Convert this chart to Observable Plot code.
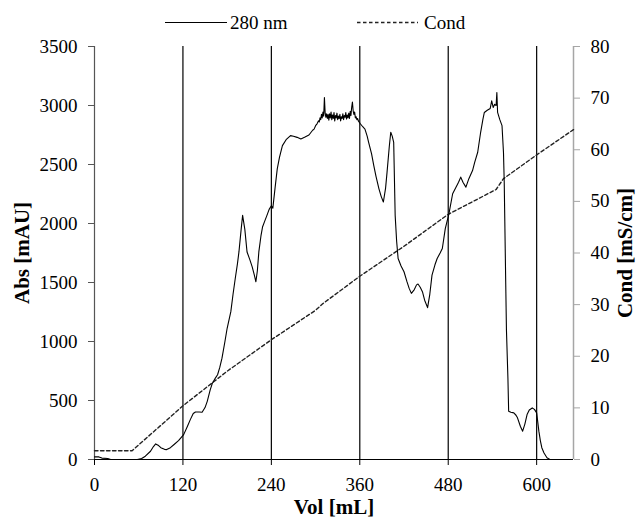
<!DOCTYPE html>
<html>
<head>
<meta charset="utf-8">
<script src="https://cdn.jsdelivr.net/npm/d3@7"></script>
<script src="https://cdn.jsdelivr.net/npm/@observablehq/plot@0.6"></script>
<style>
  html, body { margin: 0; padding: 0; background: #fff; }
  #wrap { width: 637px; height: 521px; position: relative; font-family: 'Liberation Serif', 'Times New Roman', serif; }
  #legend { display: block; }
</style>
</head>
<body>
<div id="wrap">
  <svg id="legend" width="637" height="36"></svg>
  <div id="chart"></div>
</div>
<script>
// ---- Data ----
const absVol = [0,6,10,18,22,58,64,69,76,80,83,87,90,95,98,103,108,114,121,126,130,134,137,142,146,150,153,157,160,164,167,170,173,177,180,185,188,191,194,196,199,201,204,207,211,214,217,219,221,223,226,228,231,234,237,240,242,245,248,251,255,260,266,270,275,280,285,291,296,298,300,302,304,305,306,307,308,309,310,311,312,313,314,315,316,317,318,319,320,321,322,323,324,325,326,327,328,329,330,331,332,333,334,335,336,337,338,339,340,341,342,343,344,345,346,347,348,349,350,351,352,353,354,355,356,357,358,361,364,367,370,372,376,379,382,386,389,392,395,397,400,402,404,406,408,410,412,416,420,424,427,430,434,437,439,442,445,448,452,455,458,462,465,469,472,476,481,486,490,494,497,500,504,508,513,516,520,524,527,529,533,537,539,541,543,545,546,547,550,553,555,556,558,559,561,562,565,569,572,574,578,581,584,587,590,594,597,600,603,605,607,610,614,618];
const absVal = [22,22,12,8,0,0,8,28,70,110,132,118,100,86,84,100,127,160,211,280,338,390,403,402,400,440,493,590,647,690,718,780,859,1000,1112,1253,1400,1534,1660,1759,1950,2069,1950,1759,1690,1633,1560,1506,1600,1759,1900,1970,2020,2069,2120,2150,2130,2300,2463,2560,2660,2710,2745,2740,2730,2716,2730,2750,2790,2800,2829,2845,2870,2860,2895,2880,2925,2895,2945,2910,3068,2935,2900,2930,2890,2925,2875,2930,2895,2945,2880,2920,2890,2940,2870,2915,2895,2935,2880,2910,2890,2925,2870,2905,2890,2930,2880,2915,2900,2940,2885,2920,2895,2935,2890,2950,2915,2985,3030,2955,2925,2945,2895,2905,2880,2890,2870,2843,2820,2800,2740,2688,2590,2491,2400,2294,2230,2182,2300,2435,2650,2773,2740,2688,2069,1850,1703,1640,1591,1507,1450,1408,1440,1480,1487,1460,1422,1350,1287,1400,1563,1650,1703,1750,1788,1956,2083,2252,2300,2350,2393,2350,2308,2380,2449,2520,2604,2773,2880,2941,2960,2975,3040,2983,3010,3000,3110,2941,2880,2829,2600,2350,1507,1100,690,409,400,395,375,353,280,240,300,381,420,437,425,395,240,160,100,55,15,0];

const condVol = [0,51,120,180,240,300,310,360,420,480,545,555,600,650];
const condVal = [1.7,1.7,10.4,17.1,23.2,28.9,30.2,35.5,41.3,47.5,52.3,54.4,59.0,63.9];

const xTicks = [0,120,240,360,480,600];
const gridX = [120,240,360,480,600];
const absTicks = [0,500,1000,1500,2000,2500,3000,3500];
const condTicks = [0,10,20,30,40,50,60,70,80];
const xDomain = [0,650];
const absMax = 3500;
const condMax = 80;

const seriesLabels = ["280 nm","Cond"];
const xTitle = "Vol [mL]";
const yTitle = "Abs [mAU]";
const y2Title = "Cond [mS/cm]";

// ---- Build tables ----
const absData = absVol.map((v,i) => ({vol: v, abs: absVal[i]}));
const condData = condVol.map((v,i) => ({vol: v, cond: condVal[i]}));
const toY = c => c * absMax / condMax;

// ---- Legend ----
const font = "'Liberation Serif', 'Times New Roman', serif";
const lg = d3.select("#legend");
lg.append("line").attr("x1",165).attr("x2",227).attr("y1",22.5).attr("y2",22.5)
  .attr("stroke","black").attr("stroke-width",1.1);
lg.append("text").attr("x",230).attr("y",29).text(seriesLabels[0])
  .attr("font-size",19).attr("font-family",font).attr("fill","black");
lg.append("line").attr("x1",357).attr("x2",418).attr("y1",22.5).attr("y2",22.5)
  .attr("stroke","#222").attr("stroke-width",1.3).attr("stroke-dasharray","3.5,2.5");
lg.append("text").attr("x",424).attr("y",29).text(seriesLabels[1])
  .attr("font-size",19).attr("font-family",font).attr("fill","black");

// ---- Chart ----
const chart = Plot.plot({
  width: 637,
  height: 485,
  marginLeft: 94,
  marginRight: 64,
  marginTop: 10,
  marginBottom: 62,
  x: {domain: xDomain},
  y: {domain: [0, absMax]},
  style: {fontFamily: font, fontSize: "19px", color: "black", background: "white", overflow: "visible"},
  marks: [
    Plot.ruleX(gridX, {y1: 0, y2: absMax, stroke: "black", strokeWidth: 1.2}),
    Plot.ruleX([xDomain[0]], {y1: 0, y2: absMax, stroke: "#555", strokeWidth: 1.2}),
    Plot.ruleX([xDomain[1]], {y1: 0, y2: absMax, stroke: "#a6a6a6", strokeWidth: 1.5}),
    Plot.axisX(xTicks, {tickSize: 6, tickPadding: 12, label: null, tickFormat: d => String(d), stroke: "black", fill: "black", fontSize: 19, fontFamily: font}),
    Plot.axisY(absTicks, {anchor: "left", tickSize: 6, tickPadding: 11, label: null, tickFormat: d => String(d), stroke: "#555", fill: "black", fontSize: 19, fontFamily: font}),
    Plot.axisY(condTicks.map(toY), {anchor: "right", tickSize: 6, tickPadding: 11, label: null,
      tickFormat: d => String(Math.round(d * condMax / absMax)), stroke: "#a6a6a6", fill: "black", fontSize: 19, fontFamily: font}),
    Plot.ruleY([0], {x1: xDomain[0], x2: xDomain[1], stroke: "black", strokeWidth: 1.2}),
    Plot.line(condData, {x: "vol", y: d => toY(d.cond), stroke: "#222", strokeWidth: 1.4, strokeDasharray: "3.5,2.5"}),
    Plot.line(absData, {x: "vol", y: "abs", stroke: "black", strokeWidth: 1.1}),
    Plot.text([yTitle], {frameAnchor: "left", dx: -72, rotate: -90, fontWeight: "bold", fontSize: 21, textAnchor: "middle", lineAnchor: "middle", fill: "black", fontFamily: font}),
    Plot.text([y2Title], {frameAnchor: "right", dx: 52, rotate: -90, fontWeight: "bold", fontSize: 21, textAnchor: "middle", lineAnchor: "middle", fill: "black", fontFamily: font}),
    Plot.text([xTitle], {frameAnchor: "bottom", dy: 48, fontWeight: "bold", fontSize: 21, textAnchor: "middle", lineAnchor: "middle", fill: "black", fontFamily: font})
  ]
});
document.getElementById("chart").appendChild(chart);
</script>
</body>
</html>
